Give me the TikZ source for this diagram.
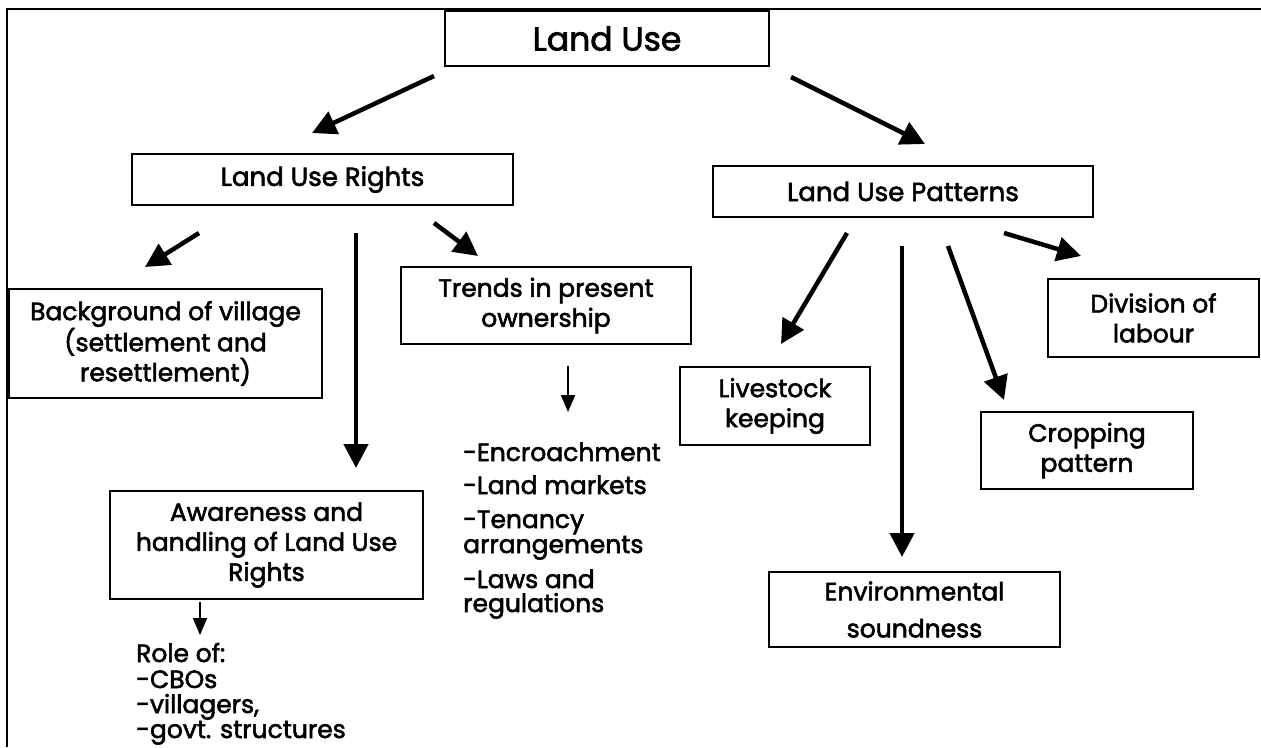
\documentclass[tikz,border=0pt]{standalone}
\usepackage{fontspec}
\setmainfont{Poppins}[FakeBold=2.2]
\usetikzlibrary{arrows.meta}
\begin{document}
\begin{tikzpicture}[x=1pt,y=-1pt,
  box/.style={draw=black,line width=1.2pt,align=center,inner sep=0pt,font=\fontsize{25}{30}\selectfont},
  bigarrow/.style={-{Triangle[length=24pt,width=24pt]},line width=4.5pt},
  smallarrow/.style={-{Triangle[length=17pt,width=14pt]},line width=1.8pt},
  lbl/.style={anchor=base west,inner sep=0pt,font=\fontsize{25}{30}\selectfont}]
\useasboundingbox (0,0) rectangle (1261,747);
\draw[line width=2pt] (1261,9) coordinate (fr1) -- (7,9) coordinate (fr2) -- (7,747) coordinate (fr3);

\node[box,font=\fontsize{33}{40}\selectfont,minimum width=324pt,minimum height=55pt] (lu) at (607,38.5) {Land Use};
\node[box,font=\fontsize{26}{30}\selectfont,minimum width=381pt,minimum height=51pt] (lur) at (322.5,179.5) {Land Use Rights};
\node[box,font=\fontsize{26}{30}\selectfont,minimum width=380pt,minimum height=51pt] (lup) at (903,191.5) {Land Use Patterns};
\node[box,minimum width=313pt,minimum height=109pt] (bg) at (165.5,343.5) {Background of village\\(settlement and\\resettlement)};
\node[box,minimum width=290pt,minimum height=77pt] (tr) at (546,305.5) {Trends in present\\ownership};
\node[box,minimum width=313pt,minimum height=108pt] (aw) at (266.5,545) {Awareness and\\handling of Land Use\\Rights};
\node[box,minimum width=211pt,minimum height=78pt] (dv) at (1153.5,318) {Division of\\labour};
\node[box,minimum width=190pt,minimum height=78pt] (ls) at (775,406) {Livestock\\keeping};
\node[box,minimum width=212pt,minimum height=77pt] (cr) at (1087,450.5) {Cropping\\pattern};
\node[box,font=\fontsize{25}{37}\selectfont,minimum width=291pt,minimum height=75pt] (en) at (914.5,609.5) {Environmental\\soundness};

\node[lbl] (r1) at (136,662) {Role of:};
\node[lbl] (r2) at (136,688) {-CBOs};
\node[lbl] (r3) at (136,713) {-villagers,};
\node[lbl] (r4) at (136,738) {-govt. structures};

\node[lbl] (e1) at (463,461) {-Encroachment};
\node[lbl] (e2) at (463,494) {-Land markets};
\node[lbl] (e3) at (463,528) {-Tenancy};
\node[lbl] (e4) at (463,553) {arrangements};
\node[lbl] (e5) at (463,588) {-Laws and};
\node[lbl] (e6) at (463,612) {regulations};

\coordinate (a1s) at (434,76);  \coordinate (a1e) at (312,133);
\coordinate (a2s) at (791,77);  \coordinate (a2e) at (925,144);
\coordinate (b1s) at (199,233); \coordinate (b1e) at (145,267);
\coordinate (b2s) at (356,233); \coordinate (b2e) at (356,468);
\coordinate (b3s) at (434,223); \coordinate (b3e) at (478,256);
\coordinate (c1s) at (568,366); \coordinate (c1e) at (568,412);
\coordinate (c2s) at (200,602); \coordinate (c2e) at (200,635);
\coordinate (d1s) at (847,233); \coordinate (d1e) at (781,344);
\coordinate (d2s) at (902,246); \coordinate (d2e) at (902,557);
\coordinate (d3s) at (948,246); \coordinate (d3e) at (1004,400);
\coordinate (d4s) at (1004,233); \coordinate (d4e) at (1081,256);

\draw[bigarrow] (a1s) -- (a1e);
\draw[bigarrow] (a2s) -- (a2e);
\draw[bigarrow] (b1s) -- (b1e);
\draw[bigarrow] (b2s) -- (b2e);
\draw[bigarrow] (b3s) -- (b3e);
\draw[smallarrow] (c1s) -- (c1e);
\draw[smallarrow] (c2s) -- (c2e);
\draw[bigarrow] (d1s) -- (d1e);
\draw[bigarrow] (d2s) -- (d2e);
\draw[bigarrow] (d3s) -- (d3e);
\draw[bigarrow] (d4s) -- (d4e);
\end{tikzpicture}
\end{document}
